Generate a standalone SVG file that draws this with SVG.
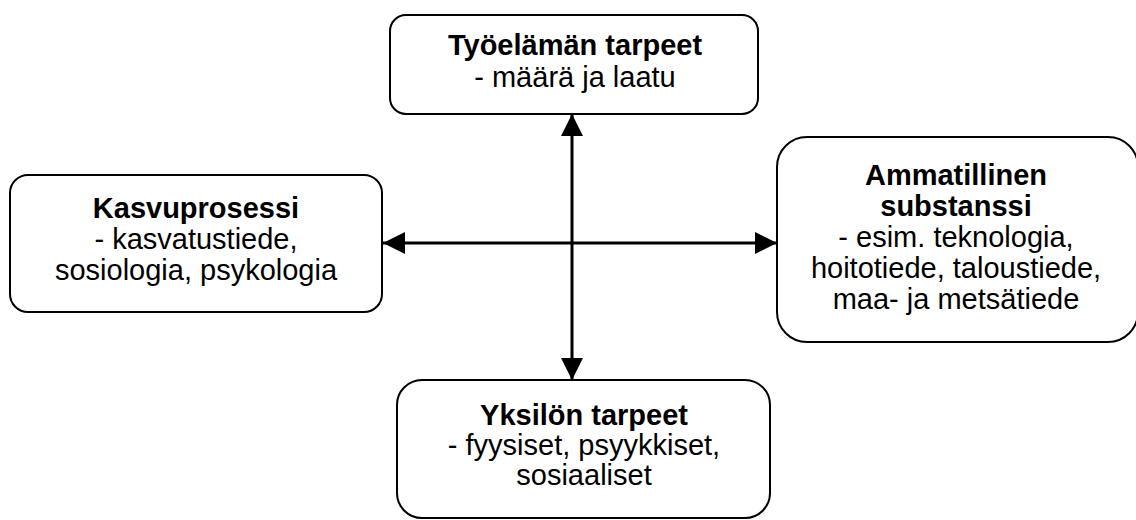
<svg xmlns="http://www.w3.org/2000/svg" width="1136" height="520" viewBox="0 0 1136 520">
  <style>
    .box { fill: #ffffff; stroke: #000000; stroke-width: 2; }
    .t { font-family: "Liberation Sans", Arial, sans-serif; font-size: 29px; fill: #000000; text-anchor: middle; }
    .b { font-weight: bold; }
    .link { stroke: #000000; stroke-width: 3; fill: none; marker-start: url(#head); marker-end: url(#head); }
  </style>
  <defs>
    <marker id="head" viewBox="0 0 22 22" refX="22" refY="11" markerWidth="22" markerHeight="22" markerUnits="userSpaceOnUse" orient="auto-start-reverse">
      <path d="M0,0 L22,11 L0,22 Z" fill="#000000"/>
    </marker>
  </defs>
  <rect width="1136" height="520" fill="#ffffff"/>

  <g id="connectors">
    <line class="link" x1="572" y1="380" x2="572" y2="114"/>
    <line class="link" x1="777" y1="243" x2="383" y2="243"/>
  </g>

  <g id="tyoelaman-tarpeet">
    <rect class="box" x="390" y="15" width="368" height="99" rx="16" ry="16"/>
    <text class="t b" x="575" y="55">Työelämän tarpeet</text>
    <text class="t" x="575" y="87">- määrä ja laatu</text>
  </g>

  <g id="kasvuprosessi">
    <rect class="box" x="10" y="175" width="372" height="137" rx="18" ry="18"/>
    <text class="t b" x="196" y="218">Kasvuprosessi</text>
    <text class="t" x="196" y="249">- kasvatustiede,</text>
    <text class="t" x="196" y="280">sosiologia, psykologia</text>
  </g>

  <g id="ammatillinen-substanssi">
    <rect class="box" x="777" y="137" width="361" height="205" rx="30" ry="30"/>
    <text class="t b" x="956" y="185">Ammatillinen</text>
    <text class="t b" x="956" y="216">substanssi</text>
    <text class="t" x="956" y="247">- esim. teknologia,</text>
    <text class="t" x="956" y="278">hoitotiede, taloustiede,</text>
    <text class="t" x="956" y="309">maa- ja metsätiede</text>
  </g>

  <g id="yksilon-tarpeet">
    <rect class="box" x="397" y="380" width="373" height="138" rx="25" ry="25"/>
    <text class="t b" x="584" y="425">Yksilön tarpeet</text>
    <text class="t" x="584" y="455">- fyysiset, psyykkiset,</text>
    <text class="t" x="584" y="485">sosiaaliset</text>
  </g>
</svg>
